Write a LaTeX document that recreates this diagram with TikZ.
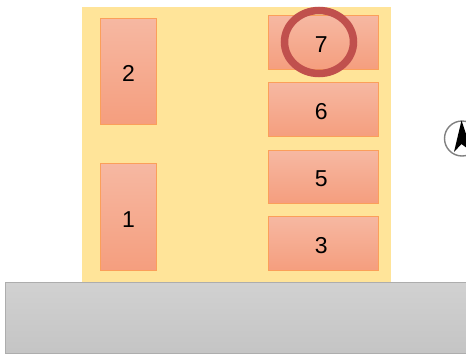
\documentclass[tikz,border=0pt]{standalone}
\usetikzlibrary{shapes.geometric}
\usepackage{fontspec}
\setmainfont{Liberation Sans}
\definecolor{lotc}{HTML}{FFE499}
\definecolor{boxe}{HTML}{FB9F5A}
\definecolor{boxt}{HTML}{F6B8A2}
\definecolor{boxb}{HTML}{F59E7E}
\definecolor{ring}{HTML}{C0504D}
\tikzset{
  x=1pt,y=-1pt,
  stall/.style={draw=boxe,line width=1.2pt,top color=boxt,bottom color=boxb,inner sep=0pt,font=\fontsize{23}{23}\selectfont,text=black},
  lot/.style={fill=lotc,draw=none},
  road/.style={draw=black!32,line width=1.2pt,top color=black!18,bottom color=black!23},
}
\newcommand{\stallbox}[6]{\node[stall,minimum width=#4pt,minimum height=#5pt,anchor=north west] (#1) at (#2,#3) {\rule{0pt}{20.5pt}#6};}
\begin{document}
\begin{tikzpicture}
\useasboundingbox (0,0) rectangle (466,354);
\fill[white] (0,0) rectangle (466,354);
\node[lot,minimum width=309pt,minimum height=275pt,anchor=north west,inner sep=0pt] (lot) at (82,7) {};
\node[road,minimum width=462pt,minimum height=71pt,anchor=north west,inner sep=0pt] (road) at (5,282) {};
\stallbox{s2}{100}{18}{56}{105.5}{2}
\stallbox{s1}{100}{163}{56}{107}{1}
\stallbox{s7}{267.5}{15}{110.5}{54}{\hspace*{-4pt}7}
\stallbox{s6}{267.5}{82}{110.5}{54}{\hspace*{-4pt}6}
\stallbox{s5}{267.5}{149.5}{110.5}{53}{\hspace*{-4pt}5}
\stallbox{s3}{267.5}{215.5}{110.5}{54}{\hspace*{-4pt}3}
\node[draw=ring,line width=7.5pt,ellipse,minimum width=69pt,minimum height=63pt,inner sep=0pt] (mark) at (319,42) {};
\node[draw=black!50,fill=white,line width=1.4pt,circle,minimum size=35pt,inner sep=0pt] (compass) at (462,138.5) {};
\fill[black] (461.5,120.5) -- (472,152) -- (461.5,144) -- (454,152) -- cycle;
\end{tikzpicture}
\end{document}
